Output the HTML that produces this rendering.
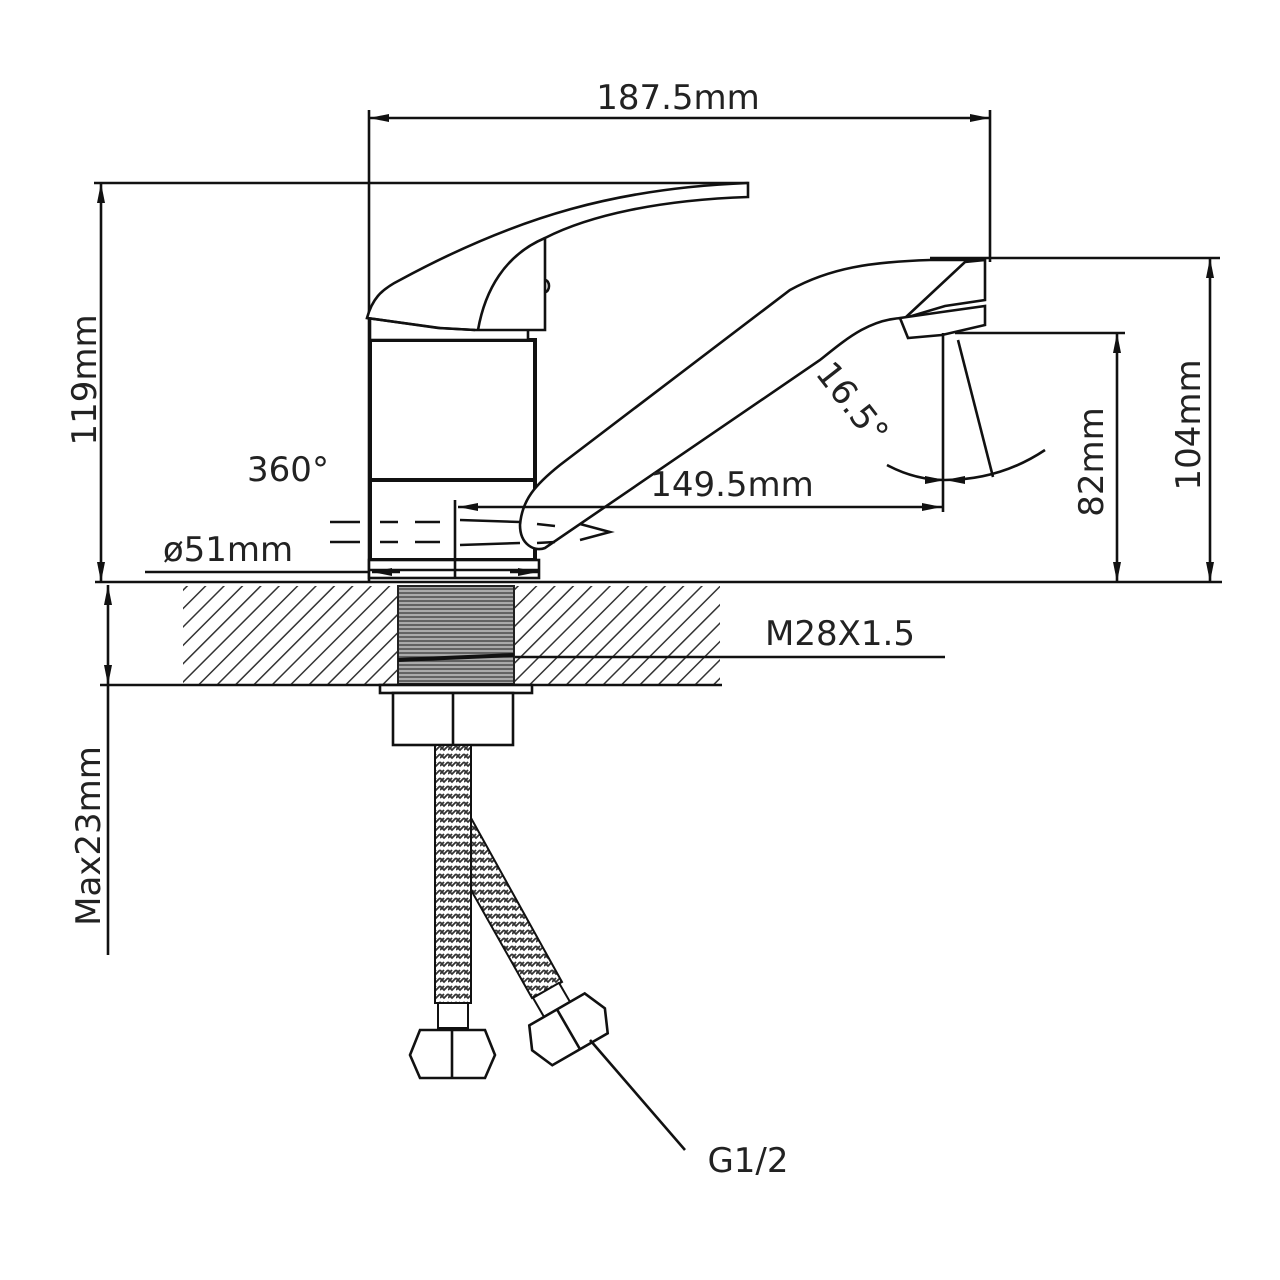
<!DOCTYPE html>
<html><head><meta charset="utf-8"><style>
html,body{margin:0;padding:0;background:#fff;}
svg{display:block;}
text{font-family:"DejaVu Sans","Liberation Sans",sans-serif;fill:#222;}
</style></head><body>
<svg width="1280" height="1280" viewBox="0 0 1280 1280" xmlns="http://www.w3.org/2000/svg">
<defs>
<marker id="a" viewBox="0 0 20 8" refX="20" refY="4" markerWidth="20" markerHeight="8" markerUnits="userSpaceOnUse" orient="auto-start-reverse"><path d="M0,0 L20,4 L0,8 z" fill="#111"/></marker>
<pattern id="h" width="13" height="13" patternUnits="userSpaceOnUse" patternTransform="rotate(45)"><line x1="0" y1="0" x2="0" y2="13" stroke="#333" stroke-width="3"/></pattern>
<pattern id="br" width="8" height="8" patternUnits="userSpaceOnUse"><rect width="8" height="8" fill="#fff"/><path d="M0,2 L4,6 L8,2 M0,6 L4,2" stroke="#333" stroke-width="1.8" fill="none"/></pattern>
<pattern id="th" width="4" height="4" patternUnits="userSpaceOnUse"><rect width="4" height="4" fill="#aaa"/><line x1="0" y1="1" x2="4" y2="1" stroke="#444" stroke-width="1.4"/></pattern>
</defs>
<g stroke="#111" stroke-width="2.6" fill="none">
<line x1="369" y1="118" x2="990" y2="118" marker-start="url(#a)" marker-end="url(#a)"/>
<line x1="369" y1="110" x2="369" y2="582"/>
<line x1="990" y1="110" x2="990" y2="262"/>
<line x1="94" y1="183" x2="748" y2="183"/>
<line x1="101" y1="183" x2="101" y2="582" marker-start="url(#a)" marker-end="url(#a)"/>
<line x1="930" y1="258" x2="1220" y2="258"/>
<line x1="1210" y1="258" x2="1210" y2="582" marker-start="url(#a)" marker-end="url(#a)"/>
<line x1="955" y1="333" x2="1125" y2="333"/>
<line x1="1117" y1="333" x2="1117" y2="582" marker-start="url(#a)" marker-end="url(#a)"/>
<line x1="95" y1="582" x2="1222" y2="582"/>
<rect x="183" y="586" width="537" height="98" fill="url(#h)" stroke="none"/>
<line x1="100" y1="685" x2="722" y2="685"/>
<line x1="515" y1="657" x2="945" y2="657"/>
<line x1="108" y1="585" x2="108" y2="685" marker-start="url(#a)" marker-end="url(#a)"/>
<line x1="108" y1="685" x2="108" y2="955"/>
<rect x="398" y="586" width="116" height="98" fill="url(#th)" stroke="#222" stroke-width="2"/>
<line x1="398" y1="660" x2="514" y2="655" stroke-width="4"/>
<rect x="380" y="685" width="152" height="8" fill="#fff"/>
<rect x="393" y="693" width="120" height="52" fill="#fff"/>
<line x1="453" y1="693" x2="453" y2="745"/>
<rect x="370" y="340" width="165" height="220" fill="#fff" stroke-width="4"/>
<line x1="370" y1="480" x2="535" y2="480" stroke-width="4"/>
<rect x="370" y="318" width="158" height="22" fill="#fff"/>
<rect x="369" y="560" width="170" height="18" fill="#fff"/>
<line x1="369" y1="570" x2="539" y2="570"/>
<path d="M367,318 C372,300 380,290 400,280 C520,215 620,188 748,183 L748,197 C660,200 590,215 545,238 L545,330 L475,330 L438,328 Z" fill="#fff"/>
<path d="M367,318 L440,328 L475,330"/>
<path d="M545,238 C505,255 485,290 478,330"/>
<path d="M545,280 a4,6 0 0 1 0,12"/>
<path d="M520,525 C522,500 535,485 560,465 L790,290 C830,268 870,262 930,260 L985,260 L985,300 L945,306 L905,318 C870,318 845,340 820,360 L545,548 C535,552 520,545 520,525 Z" fill="#fff"/>
<path d="M985,260 L965,262 L905,318"/>
<path d="M900,318 L942,312 L985,306 L985,325 L942,335 L908,338 Z" fill="#fff"/>
<g stroke-width="2.5">
<line x1="330" y1="522" x2="360" y2="522"/><line x1="380" y1="522" x2="398" y2="522"/><line x1="415" y1="522" x2="440" y2="522"/>
<line x1="330" y1="542" x2="360" y2="542"/><line x1="380" y1="542" x2="398" y2="542"/><line x1="415" y1="542" x2="440" y2="542"/>
<line x1="460" y1="520" x2="520" y2="522"/><line x1="460" y1="545" x2="520" y2="543"/>
<line x1="537" y1="524" x2="555" y2="526"/><line x1="537" y1="543" x2="555" y2="542"/>
<path d="M580,524 L610,532 L580,540"/>
</g>
<line x1="455" y1="500" x2="455" y2="578"/>
<line x1="458" y1="507" x2="942" y2="507" marker-start="url(#a)" marker-end="url(#a)"/>
<line x1="943" y1="333" x2="943" y2="512"/>
<line x1="958" y1="340" x2="993" y2="477"/>
<path d="M887,465 Q915,480 945,480" marker-end="url(#a)"/>
<path d="M945,480 Q1000,480 1045,450" marker-start="url(#a)"/>
<line x1="145" y1="572" x2="369" y2="572"/>
<line x1="372" y1="572" x2="400" y2="572" marker-start="url(#a)"/>
<line x1="510" y1="572" x2="538" y2="572" marker-end="url(#a)"/>
<path d="M471,818 L562,982 L532,998 L471,890 Z" fill="url(#br)" stroke-width="2"/>
<rect x="435" y="745" width="36" height="258" fill="url(#br)" stroke-width="2"/>
<rect x="438" y="1003" width="30" height="25" fill="#fff" stroke-width="2"/>
<path d="M420,1030 L485,1030 L495,1055 L485,1078 L420,1078 L410,1055 Z" fill="#fff"/>
<line x1="452" y1="1030" x2="452" y2="1078"/>
<g transform="translate(566,1025) rotate(-30)">
<rect x="-15" y="-40" width="30" height="22" fill="#fff" stroke-width="2"/>
<path d="M-32,-18 L32,-18 L42,5 L32,28 L-32,28 L-42,5 Z" fill="#fff"/>
<line x1="0" y1="-18" x2="0" y2="28"/>
</g>
<line x1="590" y1="1040" x2="685" y2="1150"/>
</g>
<text x="678" y="109" font-size="34" text-anchor="middle">187.5mm</text>
<text transform="translate(96,380) rotate(-90)" font-size="34" text-anchor="middle">119mm</text>
<text transform="translate(1200,425) rotate(-90)" font-size="34" text-anchor="middle">104mm</text>
<text transform="translate(1103,462) rotate(-90)" font-size="34" text-anchor="middle">82mm</text>
<text transform="translate(100,836) rotate(-90)" font-size="34" text-anchor="middle">Max23mm</text>
<text x="840" y="645" font-size="34" text-anchor="middle">M28X1.5</text>
<text x="288" y="481" font-size="34" text-anchor="middle">360°</text>
<text x="228" y="561" font-size="34" text-anchor="middle">ø51mm</text>
<text x="732" y="496" font-size="34" text-anchor="middle">149.5mm</text>
<text transform="translate(843,410) rotate(52)" font-size="34" text-anchor="middle">16.5°</text>
<text x="748" y="1172" font-size="34" text-anchor="middle">G1/2</text>
</svg>
</body></html>
